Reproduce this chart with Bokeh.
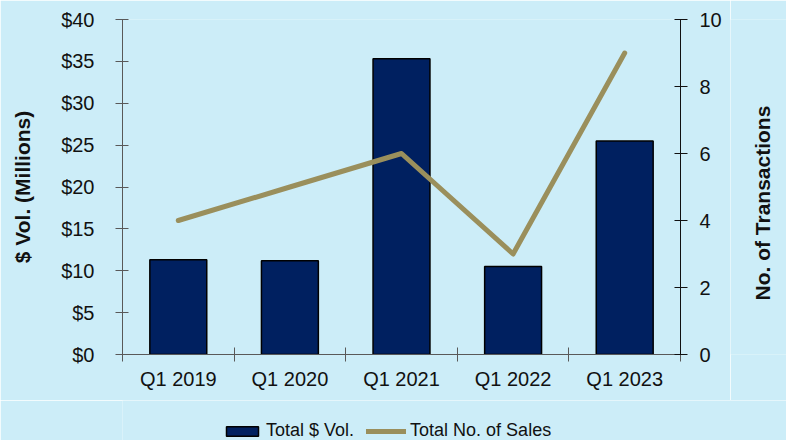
import math
from bokeh.plotting import figure
from bokeh.layouts import column, row
from bokeh.models import (Range1d, LinearAxis, FixedTicker, Legend, LegendItem,
                          ColumnDataSource, NumeralTickFormatter)
from bokeh.core.properties import value
from bokeh.embed import file_html
from bokeh.resources import INLINE

categories = ["Q1 2019", "Q1 2020", "Q1 2021", "Q1 2022", "Q1 2023"]
total_vol = [11.3, 11.2, 35.3, 10.5, 25.5]
num_sales = [4, 5, 6, 3, 9]
vol_ticks = [0, 5, 10, 15, 20, 25, 30, 35, 40]
count_ticks = [0, 2, 4, 6, 8, 10]
left_title = "$ Vol. (Millions)"
right_title = "No. of Transactions"

BG = "#CCEDF8"
FONT = "Liberation Sans"
BAR_STYLE = dict(fill_color="#002060", line_color="#000000", line_width=1.5)
LINE_STYLE = dict(line_color="#9A8F5C", line_width=5, line_cap="round", line_join="round")

xpos = [i + 0.5 for i in range(len(categories))]
bounds = [i for i in range(len(categories) + 1)]

src = ColumnDataSource(dict(x=xpos, vol=total_vol, sales=num_sales, cat=categories))

p = figure(width=730, height=400, output_backend="svg", toolbar_location=None,
           x_range=Range1d(0, len(categories)), y_range=Range1d(vol_ticks[0], vol_ticks[-1]),
           min_border_left=122, min_border_right=50, min_border_top=19, min_border_bottom=46,
           background_fill_color=BG, border_fill_color=BG, outline_line_color=None)
p.extra_y_ranges = {"count": Range1d(count_ticks[0], count_ticks[-1])}
p.grid.visible = False

bars = p.vbar(x="x", top="vol", width=0.51, source=src, **BAR_STYLE)
line = p.line(x="x", y="sales", source=src, y_range_name="count", **LINE_STYLE)

# left axis
ya = p.yaxis[0]
ya.ticker = FixedTicker(ticks=vol_ticks, minor_ticks=[])
ya.formatter = NumeralTickFormatter(format="$0")
ya.axis_label = left_title
ya.axis_label_text_font = FONT
ya.axis_label_text_font_style = "bold"
ya.axis_label_text_font_size = "21px"
ya.axis_label_text_color = "#111111"
ya.axis_label_standoff = 24
ya.major_label_text_font = FONT
ya.major_label_text_font_size = "20px"
ya.major_label_text_color = "#111111"
ya.major_label_standoff = 21
ya.axis_line_color = "#595959"
ya.major_tick_line_color = "#595959"
ya.major_tick_in = 6
ya.major_tick_out = 7
ya.minor_tick_line_color = None

# right axis
ra = LinearAxis(y_range_name="count", ticker=FixedTicker(ticks=count_ticks, minor_ticks=[]))
ra.major_label_text_font = FONT
ra.major_label_text_font_size = "20px"
ra.major_label_text_color = "#111111"
ra.major_label_standoff = 12
ra.axis_line_color = "#111111"
ra.major_tick_line_color = "#111111"
ra.major_tick_in = 6
ra.major_tick_out = 7
ra.minor_tick_line_color = None
p.add_layout(ra, "right")

# x axis
xa = p.xaxis[0]
xa.ticker = FixedTicker(ticks=xpos, minor_ticks=bounds)
xa.major_label_overrides = {x: c for x, c in zip(xpos, categories)}
xa.major_tick_line_color = None
xa.minor_tick_line_color = "#595959"
xa.minor_tick_in = 7
xa.minor_tick_out = 7
xa.axis_line_color = "#595959"
xa.major_label_text_font = FONT
xa.major_label_text_font_size = "20px"
xa.major_label_text_color = "#111111"
xa.major_label_standoff = 6

# right-axis title strip (text reading bottom-to-top)
rt = figure(width=56, height=400, output_backend="svg", toolbar_location=None,
            x_range=Range1d(0, 1), y_range=Range1d(0, 1),
            min_border_left=0, min_border_right=0, min_border_top=19, min_border_bottom=46,
            background_fill_color=BG, border_fill_color=BG, outline_line_color=None)
rt.axis.visible = False
rt.grid.visible = False
rt.text(x=[0.58], y=[0.452], text=[right_title], angle=math.pi / 2,
        text_font=value(FONT), text_font_style="bold", text_font_size="21px",
        text_color="#111111", text_align="center", text_baseline="middle")

# legend strip below the chart (dummy renderers with no drawable coordinates)
nan = float("nan")
lg = figure(width=786, height=40, output_backend="svg", toolbar_location=None,
            x_range=Range1d(0, 1), y_range=Range1d(0, 1),
            min_border_left=122, min_border_right=0, min_border_top=0, min_border_bottom=0,
            background_fill_color=BG, border_fill_color=BG, outline_line_color=None)
lg.axis.visible = False
lg.grid.visible = False
lbar = lg.vbar(x=[nan], top=[nan], width=0.5, **BAR_STYLE)
lline = lg.line(x=[nan, nan], y=[nan, nan], **LINE_STYLE)
legend = Legend(items=[LegendItem(label="Total $ Vol.", renderers=[lbar]),
                       LegendItem(label="Total No. of Sales", renderers=[lline])],
                orientation="horizontal", location=(100, -1),
                glyph_width=40, glyph_height=12, label_text_font=FONT,
                label_text_font_size="18px", label_text_color="#111111",
                background_fill_alpha=0, border_line_color=None,
                spacing=12, label_standoff=4, margin=0, padding=0)
lg.add_layout(legend, "center")

layout = column(row(p, rt, spacing=0), lg, spacing=0)
open("out.html", "w").write(file_html(layout, INLINE))
